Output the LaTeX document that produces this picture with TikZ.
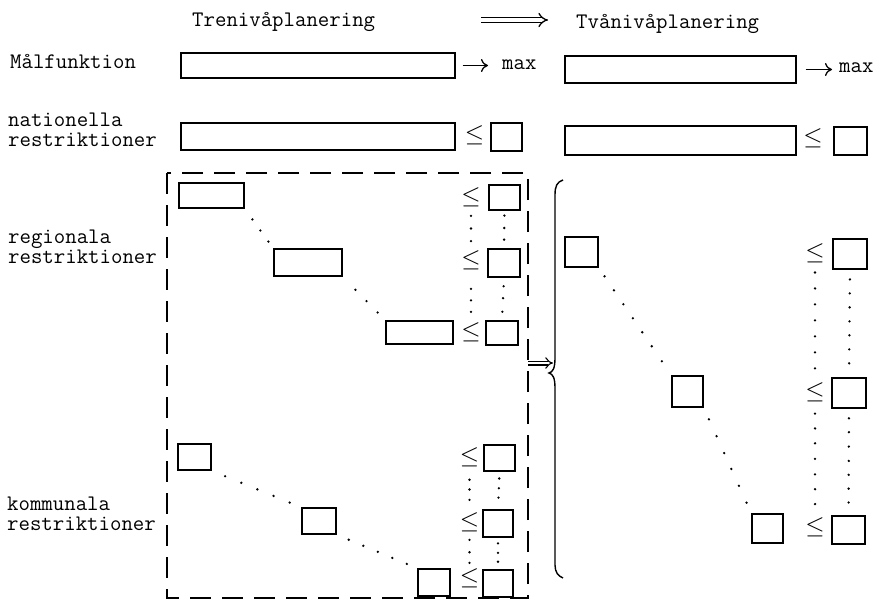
\documentclass[tikz,border=0pt]{standalone}
\usepackage{fontspec}
\usetikzlibrary{arrows.meta,calc}
\newcommand\mydots[3]{\foreach \t in {#3}{\fill ($(#1)!\t!(#2)$) circle (1.3pt);}}
\begin{document}
\begin{tikzpicture}[x=1pt,y=-1pt,
  bx/.style={draw, line width=1.4pt, rectangle, inner sep=0pt},
  lbl/.style={anchor=base west, inner sep=0pt, align=left,
    font=\ttfamily\fontsize{22.2}{20}\selectfont},
  le/.style={inner sep=0pt, font=\fontsize{23}{23}\selectfont},
  arr/.style={line width=1.3pt, -{To[length=7pt,width=13pt]}},
  dbl/.style={double, double distance=3.6pt, line width=1.3pt, -{Implies}},
  dashbox/.style={line width=1.6pt, dash pattern=on 21pt off 11pt},
  brace/.style={line width=1.4pt}]
\useasboundingbox (0,0) rectangle (878,603);
% headings
\node[lbl] (h1) at (192,26) {Trenivåplanering};
\node[lbl] (h2) at (576,28) {Tvånivåplanering};
\coordinate (d1) at (481,20);
\coordinate (d2) at (548,20);
\draw[dbl] (d1) -- (d2);
% row labels
\node[lbl] (l1) at (10,68) {Målfunktion};
\node[lbl] (l2) at (8,146) {nationella\\restriktioner};
\node[lbl] (l3) at (8,263) {regionala\\restriktioner};
\node[lbl] (l4) at (7,530) {kommunala\\restriktioner};
% left top rows
\node[bx, minimum width=274pt, minimum height=25pt] (tb1) at (318,65.5) {};
\node[lbl] (tmax) at (502,69) {max};
\draw[arr] ([xshift=7pt]tb1.east) -- ($(tb1.east -| tmax.west)+(-14,0)$);
\node[bx, minimum width=274pt, minimum height=27pt] (tb2) at (318,136.5) {};
\node[le] (tle) at (474.5,135) {$\leq$};
\node[bx, minimum width=31pt, minimum height=28pt] (tq2) at (506.5,137) {};
% right top rows
\node[bx, minimum width=231pt, minimum height=27pt] (rb1) at (680.5,69.5) {};
\node[lbl] (rmax) at (839,72) {max};
\draw[arr] ([xshift=9pt]rb1.east) -- ($(rb1.east -| rmax.west)+(-7,0)$);
\node[bx, minimum width=231pt, minimum height=29pt] (rb2) at (680.5,140.5) {};
\node[le] (rle) at (813,138) {$\leq$};
\node[bx, minimum width=33pt, minimum height=28pt] (rq2) at (850.5,141) {};
% dashed frame
\draw[dashbox] (167,173) rectangle (528,598);
% regional
\node[bx, minimum width=65pt, minimum height=25pt] (r1) at (211.5,195.5) {};
\node[bx, minimum width=68pt, minimum height=27pt] (r2) at (308,262.5) {};
\node[bx, minimum width=67pt, minimum height=23pt] (r3) at (419.5,332.5) {};
\node[bx, minimum width=31pt, minimum height=25pt] (rs1) at (504.5,197.5) {};
\node[bx, minimum width=32pt, minimum height=28pt] (rs2) at (504,263) {};
\node[bx, minimum width=32pt, minimum height=24pt] (rs3) at (502,333) {};
\node[le] (rl1) at (471,197) {$\leq$};
\node[le] (rl2) at (471,260) {$\leq$};
\node[le] (rl3) at (471,332) {$\leq$};
\mydots{r1.south east}{r2.north west}{0.27,0.55,0.83}
\mydots{r2.south east}{r3.north west}{0.3,0.56,0.82}
\mydots{rl1.center}{rl2.center}{0.3,0.5,0.7}
\mydots{rl2.center}{rl3.center}{0.4,0.56,0.72}
\mydots{rs1.south}{rs2.north}{0.13,0.46,0.77}
\mydots{rs2.south}{rs3.north}{0.2,0.48,0.8}
% communal
\node[bx, minimum width=33pt, minimum height=26pt] (k1) at (194.5,457) {};
\node[bx, minimum width=34pt, minimum height=26pt] (k2) at (319,521) {};
\node[bx, minimum width=32pt, minimum height=27pt] (k3) at (434,582.5) {};
\node[bx, minimum width=31pt, minimum height=26pt] (ks1) at (499.5,458) {};
\node[bx, minimum width=30pt, minimum height=27pt] (ks2) at (498,523.5) {};
\node[bx, minimum width=30pt, minimum height=27pt] (ks3) at (498,583.5) {};
\node[le] (kl1) at (469.5,457) {$\leq$};
\node[le] (kl2) at (469.5,522) {$\leq$};
\node[le] (kl3) at (469.5,578) {$\leq$};
\mydots{k1.south east}{k2.north west}{0.15,0.33,0.51,0.69,0.87}
\mydots{k2.south east}{k3.north west}{0.15,0.33,0.51,0.69,0.87}
\mydots{kl1.center}{kl2.center}{0.35,0.5,0.66}
\mydots{kl2.center}{kl3.center}{0.32,0.54,0.73}
\mydots{ks1.south}{ks2.north}{0.18,0.44,0.69}
\mydots{ks2.south}{ks3.north}{0.18,0.48,0.76}
% implication and brace
\coordinate (i1) at (528,363);
\coordinate (i2) at (553,363);
\draw[dbl, double distance=2.8pt, line width=1.1pt] (i1) -- (i2);
\coordinate (bt) at (563,180);
\coordinate (bm) at (549,373);
\coordinate (bb) at (563,578);
\draw[brace] (bt) .. controls (557,182) and (555,186) .. (555,195)
  -- (555,358) .. controls (555,368) and (553,372) .. (bm)
  .. controls (553,374) and (555,378) .. (555,388)
  -- (555,565) .. controls (555,572) and (558,576) .. (bb);
% two-level side
\node[bx, minimum width=33pt, minimum height=30pt] (sA) at (581.5,252) {};
\node[bx, minimum width=31pt, minimum height=31pt] (sB) at (687.5,391.5) {};
\node[bx, minimum width=31pt, minimum height=29pt] (sC) at (767.5,528.5) {};
\node[bx, minimum width=34pt, minimum height=30pt] (R1) at (850,254) {};
\node[bx, minimum width=34pt, minimum height=30pt] (R2) at (849,393) {};
\node[bx, minimum width=33pt, minimum height=28pt] (R3) at (848.5,530) {};
\node[le] (L1) at (815,253) {$\leq$};
\node[le] (L2) at (815,392) {$\leq$};
\node[le] (L3) at (815,527) {$\leq$};
\mydots{sA.south east}{sB.north west}{0.08,0.21,0.34,0.47,0.60,0.73,0.87}
\mydots{sB.south east}{sC.north west}{0.11,0.27,0.43,0.58,0.74,0.90}
\mydots{L1.center}{L2.center}{0.14,0.255,0.37,0.485,0.6,0.715,0.83}
\mydots{L2.center}{L3.center}{0.16,0.27,0.38,0.495,0.61,0.72,0.83}
\mydots{R1.south}{R2.north}{0.09,0.22,0.35,0.48,0.61,0.74,0.87}
\mydots{R2.south}{R3.north}{0.09,0.22,0.355,0.49,0.62,0.75,0.88}
\end{tikzpicture}
\end{document}
